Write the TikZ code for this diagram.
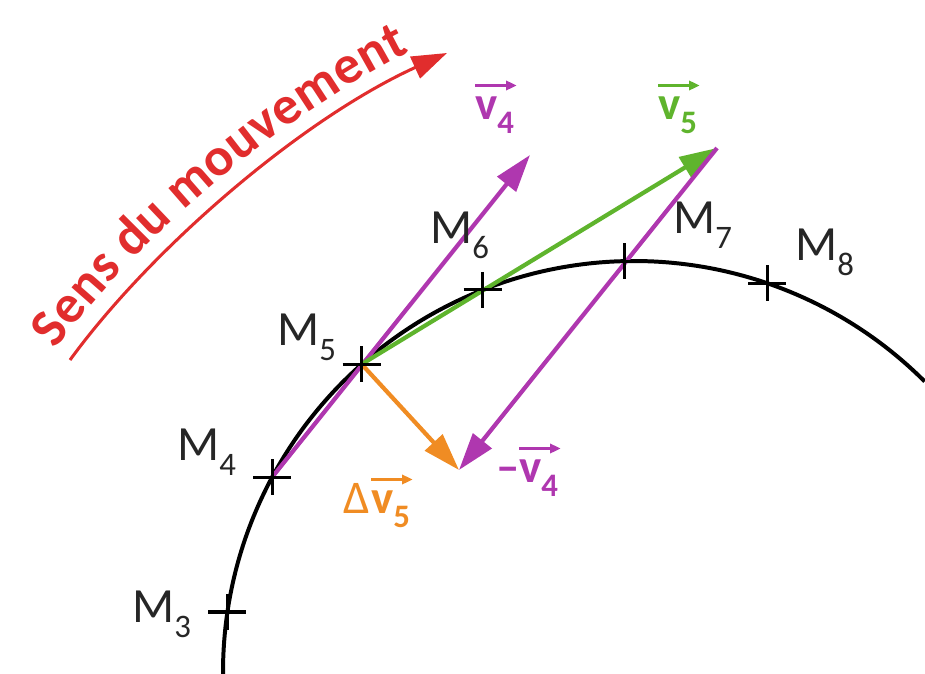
\documentclass[tikz,border=0pt]{standalone}
\usepackage{fontspec}
\setmainfont{Carlito}
\usetikzlibrary{arrows.meta,decorations.text}
\definecolor{vred}{RGB}{225,45,45}
\definecolor{vpurple}{RGB}{175,55,175}
\definecolor{vgreen}{RGB}{95,180,45}
\definecolor{vorange}{RGB}{240,140,35}
\newcommand\Mlab[1]{M\raisebox{-0.32em}{\fontsize{28}{28}\selectfont #1}}
\newcommand\vsub[1]{v\raisebox{-0.3em}{\fontsize{28}{28}\selectfont\bfseries #1}}
\begin{document}
\begin{tikzpicture}[x=0.03cm,y=-0.03cm,
  curve/.style={line width=3.4pt,black},
  tickmark/.style={line width=2.6pt,black},
  vec/.style={line width=3.6pt,-{Triangle[length=32pt,width=20pt]}},
  mlab/.style={font=\fontsize{42}{42}\selectfont,text=black!85,inner sep=0pt,anchor=base west},
  vlabel/.style={font=\fontsize{40}{40}\selectfont\bfseries,inner sep=0pt,anchor=base west},
  overarrow/.style={append after command={
     ([yshift=9pt]\tikzlastnode.north west) edge[draw=#1,line width=2pt,
        -{Triangle[length=9pt,width=8pt]}] ([yshift=9pt,xshift=2pt]\tikzlastnode.north east)}}]
\useasboundingbox (0,0) rectangle (925,674);
% trajectory (circle arc)
\draw[curve] plot[domain=179.7:315,samples=120,smooth] ({634+411*cos(\x)},{672+411*sin(\x)});
\foreach \i/\a in {3/188.4,4/208.3,5/228.5,6/248.4,7/268.7,8/288.9}
  {\coordinate (M\i) at ({634+411*cos(\a)},{672+411*sin(\a)});}
\coordinate (T4) at (530,155);
\coordinate (T5) at (717,148);
\coordinate (D) at (459,470);
% vectors
\draw[vec,vpurple] (M4) -- (T4);
\draw[vec,vgreen] (M5) -- (T5);
\draw[vec,vpurple] (T5) -- (D);
\draw[vec,vorange] (M5) -- (D);
% ticks
\foreach \i in {3,...,8}
  {\draw[tickmark] (M\i) ++(-19,0) -- ++(38,0) (M\i) ++(0,-18) -- ++(0,36);}
% point labels
\node[mlab] (L3) at (132,622) {\Mlab{3}};
\node[mlab] (L4) at (177,460) {\Mlab{4}};
\node[mlab] (L5) at (277,345) {\Mlab{5}};
\node[mlab] (L6) at (430,243) {\Mlab{6}};
\node[mlab] (L7) at (673,233) {\Mlab{7}};
\node[mlab] (L8) at (795,260) {\Mlab{8}};
% vector labels
\node[vlabel,text=vpurple,overarrow=vpurple] (V4) at (475,119) {\vsub{4}};
\node[vlabel,text=vgreen,overarrow=vgreen] (V5) at (658,119) {\vsub{5}};
\node[vlabel,text=vpurple] (MS) at (496,482) {–};
\node[vlabel,text=vpurple,overarrow=vpurple] (MV4) at (519,482) {\vsub{4}};
\node[vlabel,text=vorange,font=\fontsize{40}{40}\selectfont] (DS) at (343,513) {Δ};
\node[vlabel,text=vorange,overarrow=vorange] (DV5) at (371,513) {\vsub{5}};
% direction of motion
\draw[vred,line width=2.6pt,-{Triangle[length=30pt,width=20pt]}]
  (70,360) .. controls (150,250) and (300,120) .. (447,53);
\path[decorate,decoration={text along path,
  text={|\fontsize{46}{46}\selectfont\bfseries\color{vred}|Sens du mouvement},
  text align={left indent=0pt},raise=15pt}]
  (70,360) .. controls (150,250) and (300,120) .. (447,53);
\end{tikzpicture}
\end{document}
